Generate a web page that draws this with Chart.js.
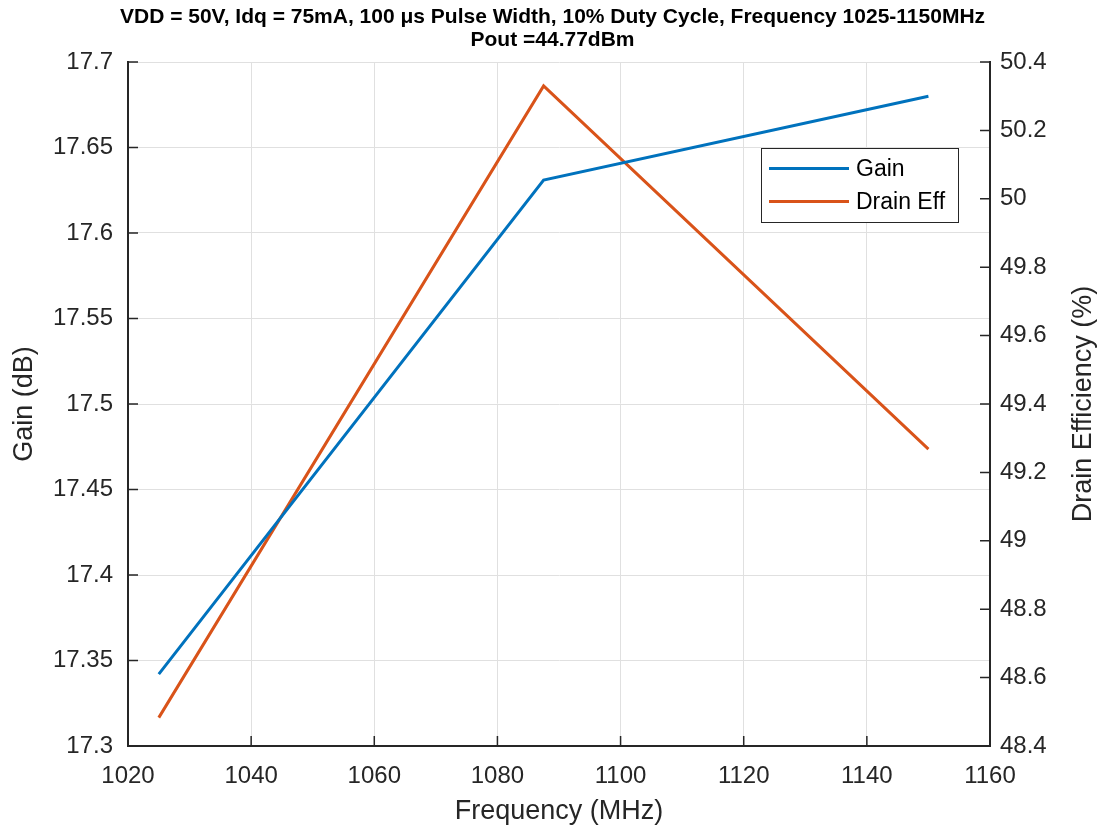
<!DOCTYPE html>
<html>
<head>
<meta charset="utf-8">
<script src="https://cdn.jsdelivr.net/npm/chart.js@4/dist/chart.umd.min.js"></script>
<style>
    body { margin: 0; background: #fff; }
    #wrap { width: 1105px; height: 831px; position: relative; }
</style>
</head>
<body>
<div id="wrap"><canvas id="myChart"></canvas></div>
<script>
// data
const freq = [1025, 1087.5, 1150];
const gain = [17.342, 17.631, 17.680];
const drainEff = [48.483, 50.330, 49.268];

const titleLines = ['VDD = 50V, Idq = 75mA, 100 \u03BCs Pulse Width, 10% Duty Cycle, Frequency 1025-1150MHz', 'Pout =44.77dBm'];
const xLabel = 'Frequency (MHz)';
const gainLabel = 'Gain (dB)';
const effLabel = 'Drain Efficiency (%)';

const FONT = "'Liberation Sans', Arial, Helvetica, sans-serif";
const INK = '#262626';

// MATLAB style ticks pointing inwards
const inwardTicks = {
    id: 'inwardTicks',
    afterDraw(chart) {
        const {ctx, chartArea: a, scales} = chart;
        ctx.save();
        ctx.strokeStyle = INK;
        ctx.lineWidth = 1.5;
        ctx.beginPath();
        scales.y.ticks.forEach(t => {
            const p = scales.y.getPixelForValue(t.value);
            ctx.moveTo(a.left, p); ctx.lineTo(a.left + 10, p);
        });
        scales.y2.ticks.forEach(t => {
            const p = scales.y2.getPixelForValue(t.value);
            ctx.moveTo(a.right, p); ctx.lineTo(a.right - 10, p);
        });
        scales.x.ticks.forEach(t => {
            const p = scales.x.getPixelForValue(t.value);
            ctx.moveTo(p, a.bottom); ctx.lineTo(p, a.bottom - 10);
        });
        ctx.stroke();

        // right axis label reads bottom to top
        ctx.fillStyle = INK;
        ctx.font = '27px ' + FONT;
        ctx.textAlign = 'center';
        ctx.textBaseline = 'middle';
        ctx.translate(1084, (a.top + a.bottom) / 2);
        ctx.rotate(-Math.PI / 2);
        ctx.fillText(effLabel, 0, 0);
        ctx.restore();
    }
};

// boxed legend inside the axes
const boxLegend = {
    id: 'boxLegend',
    afterDraw(chart) {
        const {ctx, chartArea: a} = chart;
        const x = a.right - 229, y = a.top + 86, w = 197, h = 74;
        ctx.save();
        ctx.fillStyle = '#fff';
        ctx.fillRect(x, y, w, h);
        ctx.strokeStyle = INK;
        ctx.lineWidth = 1;
        ctx.strokeRect(x + 0.5, y + 0.5, w, h);
        ctx.font = '23px ' + FONT;
        ctx.textBaseline = 'middle';
        chart.data.datasets.forEach((ds, i) => {
            const ly = y + 20.5 + i * 33;
            ctx.strokeStyle = ds.borderColor;
            ctx.lineWidth = 3;
            ctx.beginPath();
            ctx.moveTo(x + 8, ly); ctx.lineTo(x + 88, ly);
            ctx.stroke();
            ctx.fillStyle = '#000';
            ctx.fillText(ds.label, x + 95, ly + 1);
        });
        ctx.restore();
    }
};

const data = {
    labels: freq,
    datasets: [{
            label: 'Gain',
            data: freq.map((f, i) => ({x: f, y: gain[i]})),
            borderColor: '#0072BD',
            backgroundColor: '#0072BD',
            borderWidth: 3,
            pointRadius: 0,
            yAxisID: 'y'
        }, {
            label: 'Drain Eff',
            data: freq.map((f, i) => ({x: f, y: drainEff[i]})),
            borderColor: '#D95319',
            backgroundColor: '#D95319',
            borderWidth: 3,
            pointRadius: 0,
            yAxisID: 'y2'
        }]
};

const config = {
    type: 'line',
    data: data,
    options: {
        responsive: true,
        maintainAspectRatio: false,
        animation: false,
        layout: {padding: 0},
        plugins: {
            legend: {display: false},
            tooltip: {enabled: false},
            title: {
                display: true,
                text: titleLines,
                color: '#000',
                font: {family: FONT, size: 21, weight: 'bold', lineHeight: 1.1},
                padding: {top: 5.5, bottom: 10.3}
            }
        },
        scales: {
            x: {
                type: 'linear',
                min: 1020,
                max: 1160,
                afterFit: s => { s.height = 85; },
                ticks: {stepSize: 20, color: INK, padding: 16, font: {family: FONT, size: 24},
                    callback: v => String(v)},
                grid: {color: '#e0e0e0', lineWidth: 1, drawTicks: false},
                border: {color: INK, width: 2},
                title: {display: true, text: xLabel, color: INK, font: {family: FONT, size: 27}, padding: {top: 0, bottom: 3}}
            },
            y: {
                position: 'left',
                min: 17.3,
                max: 17.7,
                afterFit: s => { s.width = 128; },
                ticks: {stepSize: 0.05, color: INK, padding: 15, font: {family: FONT, size: 24},
                    callback: v => String(+v.toFixed(2))},
                grid: {color: '#e0e0e0', lineWidth: 1, drawTicks: false},
                border: {color: INK, width: 2},
                title: {display: true, text: gainLabel, color: INK, font: {family: FONT, size: 27}, padding: {top: 8, bottom: 0}}
            },
            y2: {
                position: 'right',
                min: 48.4,
                max: 50.4,
                afterFit: s => { s.width = 115; },
                ticks: {stepSize: 0.2, color: INK, padding: 10, font: {family: FONT, size: 24},
                    callback: v => String(+v.toFixed(1))},
                grid: {display: false, drawTicks: false},
                border: {color: INK, width: 2}
            }
        }
    },
    plugins: [inwardTicks, boxLegend]
};

let ctx = document.getElementById('myChart').getContext('2d')

new Chart(ctx, config)
</script>
</body>
</html>
